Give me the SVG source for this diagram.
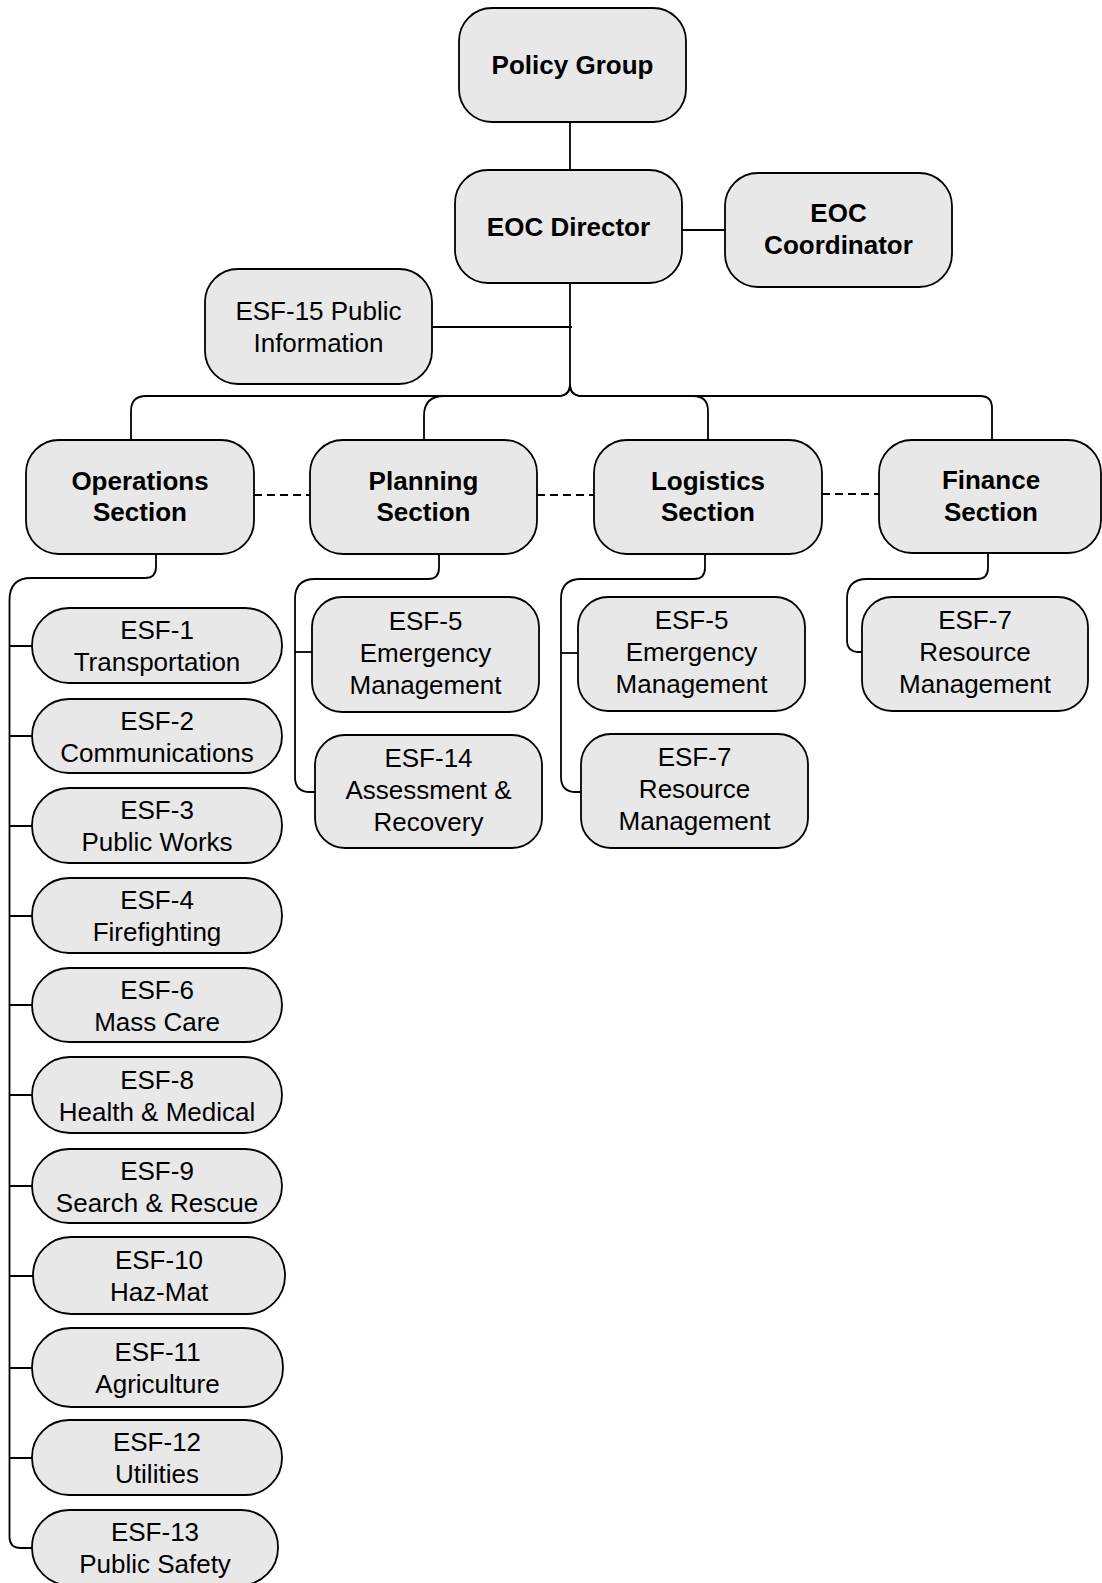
<svg xmlns="http://www.w3.org/2000/svg" width="1102" height="1583" viewBox="0 0 1102 1583">
<style>
.box{fill:#e8e8e8;stroke:#000;stroke-width:1.8}
.t{font-family:"Liberation Sans",Arial,sans-serif;font-size:26px;text-anchor:middle;fill:#000}
.b{font-weight:bold}
.c{fill:none;stroke:#000;stroke-width:1.8}
.d{stroke-dasharray:8 5}
</style>
<rect width="1102" height="1583" fill="#fff"/>
<g id="connectors">
<path class="c" d="M570,122 V170"/>
<path class="c" d="M682,230 H725"/>
<path class="c" d="M432,327 H572"/>
<path class="c" d="M570,283 V384 Q570,396 558,396 H146 Q131,396 131,411 V440"/>
<path class="c" d="M570,384 Q570,396 558,396 H444 Q424,396 424,416 V440"/>
<path class="c" d="M570,384 Q570,396 582,396 H693 Q708,396 708,411 V440"/>
<path class="c" d="M570,384 Q570,396 582,396 H980 Q992,396 992,408 V440"/>
<path class="c d" d="M254,495 H310"/>
<path class="c d" d="M537,495 H594"/>
<path class="c d" d="M822,494 H879"/>
<path class="c" d="M156,554 V567 Q156,578 145,578 H31 Q9.5,578 9.5,600 V1537 Q9.5,1548 21,1548 H32"/>
<path class="c" d="M9.5,646 H32 M9.5,736 H32 M9.5,826 H32 M9.5,916 H32 M9.5,1005 H32 M9.5,1095 H32 M9.5,1186 H32 M9.5,1276 H33 M9.5,1368 H32 M9.5,1458 H32"/>
<path class="c" d="M439,554 V568 Q439,579 428,579 H315 Q295,579 295,599 V777 Q295,792 310,792 H315"/>
<path class="c" d="M295,652 H312"/>
<path class="c" d="M705,554 V568 Q705,579 694,579 H581 Q561,579 561,599 V777 Q561,792 576,792 H581"/>
<path class="c" d="M561,653 H578"/>
<path class="c" d="M988,553 V568 Q988,579 977,579 H867 Q847,579 847,599 V640 Q847,652 859,652 H862"/>
</g>
<g id="policy-group"><rect class="box" x="459" y="8" width="227" height="114" rx="33"/><text class="t b" x="572.5" y="74">Policy Group</text></g>
<g id="eoc-director"><rect class="box" x="455" y="170" width="227" height="113" rx="33"/><text class="t b" x="568.5" y="235.5">EOC Director</text></g>
<g id="eoc-coordinator"><rect class="box" x="725" y="173" width="227" height="114" rx="33"/><text class="t b" x="838.5" y="222">EOC</text><text class="t b" x="838.5" y="254">Coordinator</text></g>
<g id="esf-15"><rect class="box" x="205" y="269" width="227" height="115" rx="33"/><text class="t" x="318.5" y="319.5">ESF-15 Public</text><text class="t" x="318.5" y="351.5">Information</text></g>
<g id="operations"><rect class="box" x="26" y="440" width="228" height="114" rx="33"/><text class="t b" x="140" y="489.5">Operations</text><text class="t b" x="140" y="521">Section</text></g>
<g id="planning"><rect class="box" x="310" y="440" width="227" height="114" rx="33"/><text class="t b" x="423.5" y="489.5">Planning</text><text class="t b" x="423.5" y="521">Section</text></g>
<g id="logistics"><rect class="box" x="594" y="440" width="228" height="114" rx="33"/><text class="t b" x="708" y="489.5">Logistics</text><text class="t b" x="708" y="521">Section</text></g>
<g id="finance"><rect class="box" x="879" y="440" width="222" height="113" rx="33"/><text class="t b" x="991" y="489">Finance</text><text class="t b" x="991" y="520.5">Section</text></g>
<g id="plan-esf-5"><rect class="box" x="312" y="597" width="227" height="115" rx="30"/><text class="t" x="425.5" y="629.5">ESF-5</text><text class="t" x="425.5" y="661.5">Emergency</text><text class="t" x="425.5" y="693.5">Management</text></g>
<g id="plan-esf-14"><rect class="box" x="315" y="735" width="227" height="113" rx="30"/><text class="t" x="428.5" y="766.5">ESF-14</text><text class="t" x="428.5" y="798.5">Assessment &amp;</text><text class="t" x="428.5" y="830.5">Recovery</text></g>
<g id="log-esf-5"><rect class="box" x="578" y="597" width="227" height="114" rx="30"/><text class="t" x="691.5" y="629">ESF-5</text><text class="t" x="691.5" y="661">Emergency</text><text class="t" x="691.5" y="693">Management</text></g>
<g id="log-esf-7"><rect class="box" x="581" y="734" width="227" height="114" rx="30"/><text class="t" x="694.5" y="766">ESF-7</text><text class="t" x="694.5" y="798">Resource</text><text class="t" x="694.5" y="830">Management</text></g>
<g id="fin-esf-7"><rect class="box" x="862" y="597" width="226" height="114" rx="30"/><text class="t" x="975" y="629">ESF-7</text><text class="t" x="975" y="661">Resource</text><text class="t" x="975" y="693">Management</text></g>
<g id="esf-1"><rect class="box" x="32" y="608" width="250" height="75" rx="37"/><text class="t" x="157" y="639">ESF-1</text><text class="t" x="157" y="671">Transportation</text></g>
<g id="esf-2"><rect class="box" x="32" y="699" width="250" height="74" rx="37"/><text class="t" x="157" y="729.5">ESF-2</text><text class="t" x="157" y="761.5">Communications</text></g>
<g id="esf-3"><rect class="box" x="32" y="788" width="250" height="75" rx="37"/><text class="t" x="157" y="819">ESF-3</text><text class="t" x="157" y="851">Public Works</text></g>
<g id="esf-4"><rect class="box" x="32" y="878" width="250" height="75" rx="37"/><text class="t" x="157" y="909">ESF-4</text><text class="t" x="157" y="941">Firefighting</text></g>
<g id="esf-6"><rect class="box" x="32" y="968" width="250" height="74" rx="37"/><text class="t" x="157" y="998.5">ESF-6</text><text class="t" x="157" y="1030.5">Mass Care</text></g>
<g id="esf-8"><rect class="box" x="32" y="1057" width="250" height="76" rx="38"/><text class="t" x="157" y="1088.5">ESF-8</text><text class="t" x="157" y="1120.5">Health &amp; Medical</text></g>
<g id="esf-9"><rect class="box" x="32" y="1149" width="250" height="74" rx="37"/><text class="t" x="157" y="1179.5">ESF-9</text><text class="t" x="157" y="1211.5">Search &amp; Rescue</text></g>
<g id="esf-10"><rect class="box" x="33" y="1237" width="252" height="77" rx="38"/><text class="t" x="159" y="1269">ESF-10</text><text class="t" x="159" y="1301">Haz-Mat</text></g>
<g id="esf-11"><rect class="box" x="32" y="1328" width="251" height="79" rx="39"/><text class="t" x="157.5" y="1361">ESF-11</text><text class="t" x="157.5" y="1393">Agriculture</text></g>
<g id="esf-12"><rect class="box" x="32" y="1420" width="250" height="75" rx="37"/><text class="t" x="157" y="1451">ESF-12</text><text class="t" x="157" y="1483">Utilities</text></g>
<g id="esf-13"><rect class="box" x="32" y="1510" width="246" height="75" rx="37"/><text class="t" x="155" y="1541">ESF-13</text><text class="t" x="155" y="1573">Public Safety</text></g>
</svg>
